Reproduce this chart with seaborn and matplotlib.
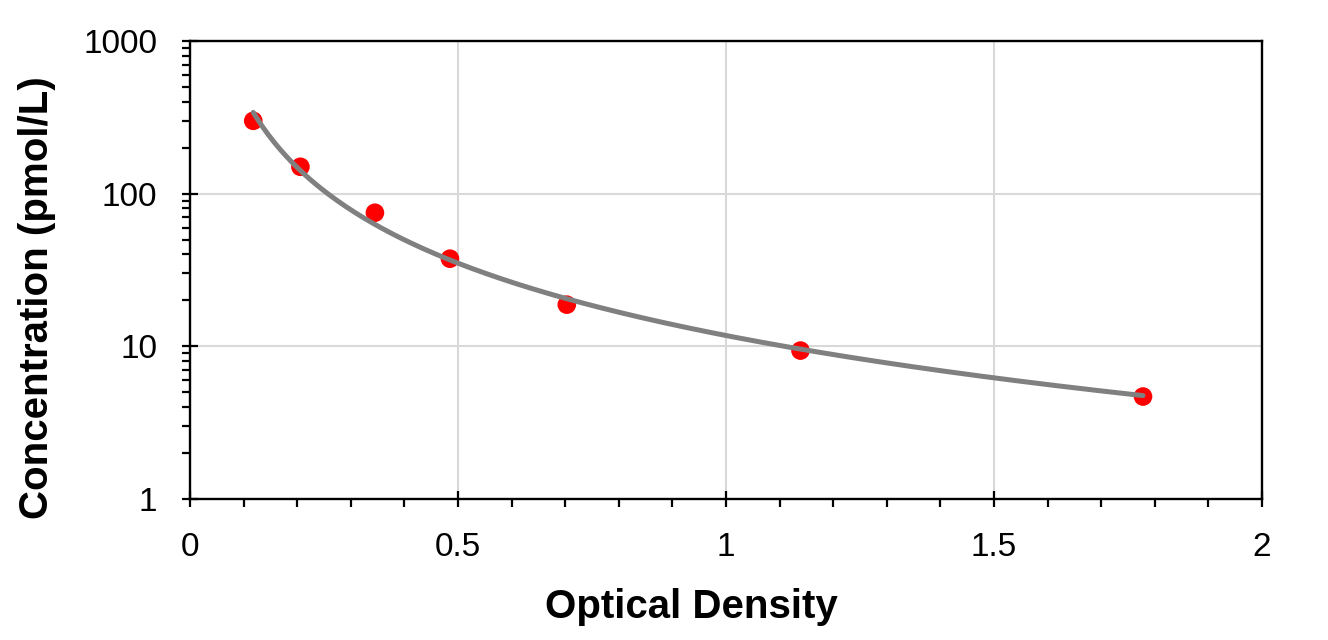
import numpy as np
import pandas as pd
import matplotlib
matplotlib.use("Agg")
import matplotlib.pyplot as plt
import seaborn as sns
from matplotlib.ticker import FixedLocator, MultipleLocator, LogLocator, NullFormatter, FuncFormatter

# Data
optical_density = [0.118, 0.206, 0.345, 0.485, 0.703, 1.139, 1.778]
concentration = [300, 150, 75, 37.5, 18.75, 9.38, 4.69]
x_ticks = [0, 0.5, 1, 1.5, 2]
y_ticks = [1, 10, 100, 1000]
x_label = "Optical Density"
y_label = "Concentration (pmol/L)"

sns.set_style("white")
plt.rcParams['font.family'] = ['Liberation Sans', 'DejaVu Sans']
plt.rcParams.update({"text.color": "black", "axes.labelcolor": "black",
                     "xtick.color": "black", "ytick.color": "black"})

df = pd.DataFrame({"od": optical_density, "conc": concentration})

# Power trendline (least squares in log-log space)
b, a = np.polyfit(np.log(df["od"]), np.log(df["conc"]), 1)
fit_x = np.linspace(df["od"].min(), df["od"].max(), 300)
fit = pd.DataFrame({"od": fit_x, "conc": np.exp(a) * fit_x ** b})

fig = plt.figure(figsize=(13.28, 6.4), dpi=100)
ax = fig.add_axes([190/1328, 141/640, (1262-190)/1328, (499-41)/640])

sns.scatterplot(data=df, x="od", y="conc", ax=ax, color="#ff0000", s=180,
                edgecolor="none", zorder=3, legend=False)
sns.lineplot(data=fit, x="od", y="conc", ax=ax, color="#808080", linewidth=3.6,
             zorder=4, legend=False)

ax.set_yscale("log")
ax.set_xlim(0, 2)
ax.set_ylim(1, 1000)

ax.xaxis.set_major_locator(FixedLocator(x_ticks))
ax.xaxis.set_minor_locator(MultipleLocator(0.1))
ax.xaxis.set_major_formatter(FuncFormatter(lambda v, p: f"{v:g}"))
ax.yaxis.set_major_locator(FixedLocator(y_ticks))
ax.yaxis.set_minor_locator(LogLocator(base=10, subs=np.arange(2, 10)))
ax.yaxis.set_major_formatter(FuncFormatter(lambda v, p: f"{v:g}"))
ax.yaxis.set_minor_formatter(NullFormatter())

ax.grid(True, which="major", color="#d9d9d9", linewidth=1.5)
ax.set_axisbelow(True)

for sp in ax.spines.values():
    sp.set_visible(True)
    sp.set_color("black")
    sp.set_linewidth(1.7)

ax.tick_params(axis="both", which="both", bottom=True, left=True, top=False, right=False)
ax.tick_params(axis="both", which="major", direction="inout", length=12, width=1.6,
               color="black", labelcolor="black", labelsize=24, pad=17.5)
ax.tick_params(axis="both", which="minor", direction="out", length=5.5, width=1.6,
               color="black")
ax.tick_params(axis="x", which="major", pad=18)

ax.set_xlabel(x_label, fontsize=29, fontweight="bold", color="black")
ax.set_ylabel(y_label, fontsize=29, fontweight="bold", color="black")
# label positions (figure pixel positions)
ax.xaxis.set_label_coords((691-190)/1072, -(588-499)/458)
ax.yaxis.set_label_coords(-(190-56)/1072, (499-298)/458)

fig.savefig("out.png", dpi=100)
